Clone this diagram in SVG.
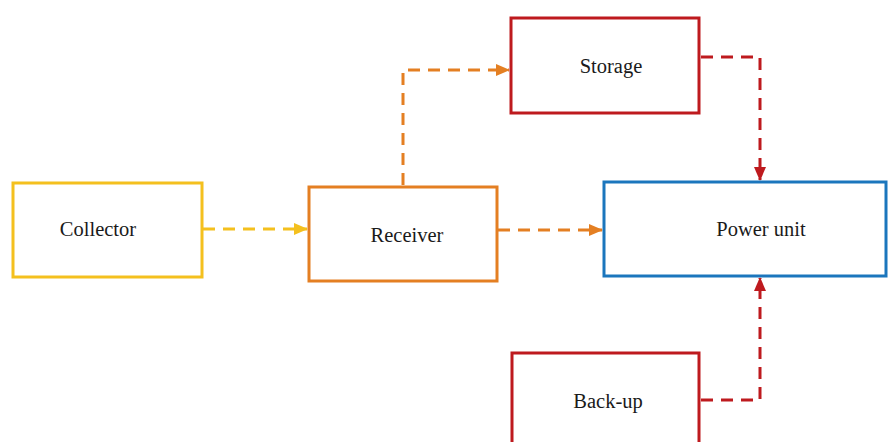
<svg xmlns="http://www.w3.org/2000/svg" width="888" height="442" viewBox="0 0 888 442">
<style>
.box{fill:#fff;stroke-width:3}
.lbl{font-family:"Liberation Serif","Times New Roman",serif;font-size:20.5px;fill:#1a1a1a;text-anchor:middle;dominant-baseline:central}
.c{fill:none;stroke-width:3;stroke-dasharray:12 8}
</style>
<defs>
<marker id="aY" markerWidth="14" markerHeight="14" refX="13" refY="7" orient="auto" markerUnits="userSpaceOnUse"><path d="M0,1 L14,7 L0,13 z" fill="#F4C01E"/></marker>
<marker id="aO" markerWidth="14" markerHeight="14" refX="13" refY="7" orient="auto" markerUnits="userSpaceOnUse"><path d="M0,1 L14,7 L0,13 z" fill="#E47F22"/></marker>
<marker id="aR" markerWidth="14" markerHeight="14" refX="13" refY="7" orient="auto" markerUnits="userSpaceOnUse"><path d="M0,1 L14,7 L0,13 z" fill="#BE1A1E"/></marker>
</defs>
<rect width="888" height="442" fill="#fff"/>
<g id="connectors">
<path class="c" d="M203,229 H307" stroke="#F4C01E" marker-end="url(#aY)"/>
<path class="c" d="M403,185 V70 H509" stroke="#E47F22" marker-end="url(#aO)"/>
<path class="c" d="M498,230 H602" stroke="#E47F22" marker-end="url(#aO)"/>
<path class="c" d="M701,57 H760 V180" stroke="#BE1A1E" marker-end="url(#aR)"/>
<path class="c" d="M701,400 H760 V278" stroke="#BE1A1E" marker-end="url(#aR)"/>
</g>
<g id="collector"><rect class="box" x="13" y="183" width="189" height="94" stroke="#F4C01E"/><text class="lbl" x="98" y="229">Collector</text></g>
<g id="receiver"><rect class="box" x="309" y="187" width="188" height="94" stroke="#E47F22"/><text class="lbl" x="407" y="235">Receiver</text></g>
<g id="storage"><rect class="box" x="511" y="18" width="188" height="95" stroke="#BE1A1E"/><text class="lbl" x="611" y="66">Storage</text></g>
<g id="power-unit"><rect class="box" x="604" y="182" width="282" height="94" stroke="#1B76BD"/><text class="lbl" x="761" y="229">Power unit</text></g>
<g id="back-up"><rect class="box" x="512" y="353" width="187" height="100" stroke="#BE1A1E"/><text class="lbl" x="608" y="401">Back-up</text></g>
</svg>
